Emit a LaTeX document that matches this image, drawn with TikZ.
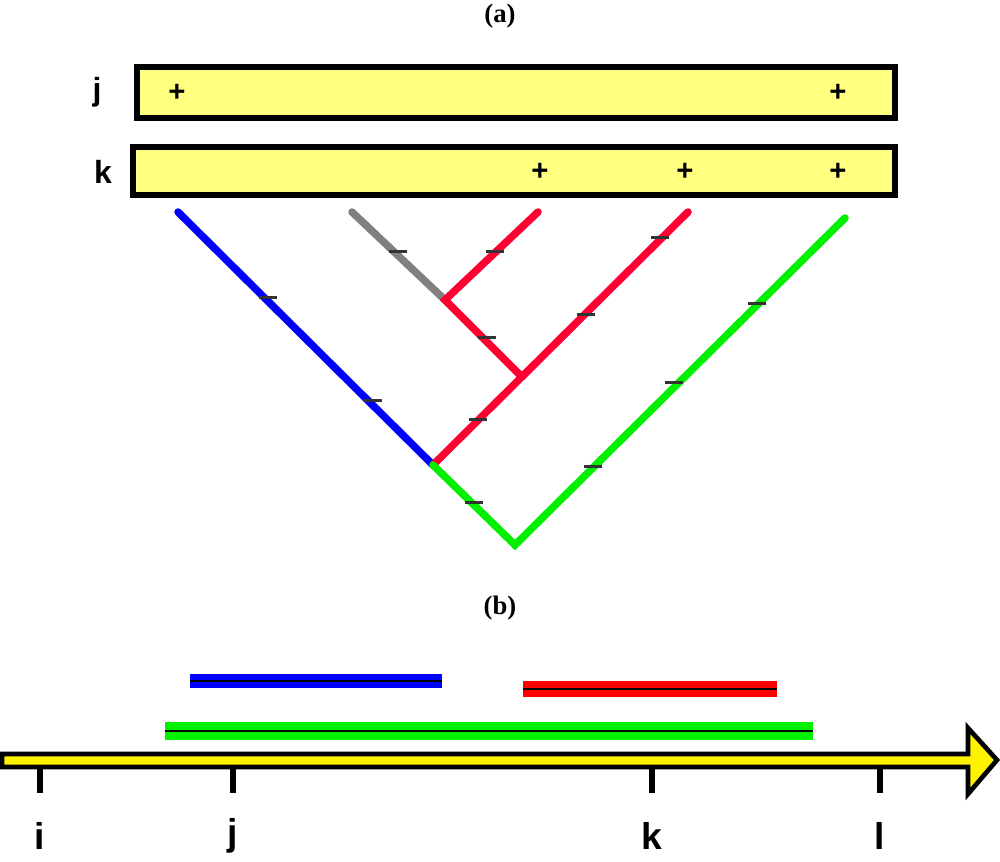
\documentclass[tikz,border=0pt]{standalone}
\usepackage{fontspec}
\setmainfont{Liberation Serif}
\newfontfamily\labfont{Liberation Sans}
\begin{document}
\begin{tikzpicture}[x=0.75pt, y=-0.75pt,
  branch/.style={line width=7.5pt*0.75, line cap=round},
  bar/.style={line width=0.75pt*2.5},
  seq/.style={draw=black, line width=4.5pt, fill={rgb,255:red,255;green,255;blue,128}},
  lab/.style={font=\labfont\bfseries\fontsize{24}{24}\selectfont},
  mark/.style={}]
\useasboundingbox (0,0) rectangle (1000,862);
\definecolor{treered}{RGB}{255,0,51}
\definecolor{treegreen}{RGB}{0,240,0}

\node[font=\bfseries\fontsize{20}{20}\selectfont] (capa) at (500,16) {(a)};
\node[font=\bfseries\fontsize{20}{20}\selectfont] (capb) at (500,608) {(b)};

% sequences
\draw[seq] (137,67) rectangle (895,118);
\draw[seq] (133,147) rectangle (895,195);
\node[lab] (lj) at (97,92) {j};
\node[lab] (lk) at (103,172) {k};
\foreach \px/\py in {177/93, 838/93, 540/172, 685/172, 838/172}
  \node[lab, font=\labfont\bfseries\fontsize{22}{22}\selectfont] at (\px,\py) {+};

% tree
\coordinate (b1) at (178,212);
\coordinate (g1) at (352,212);
\coordinate (r1) at (538,212);
\coordinate (r2) at (688,212);
\coordinate (g3) at (845,218);
\coordinate (n1) at (445,300);
\coordinate (n2) at (520,375);
\coordinate (n3) at (433,465);
\coordinate (root) at (515,545);
\draw[branch, blue] (b1) -- (n3);
\draw[branch, gray] (g1) -- (n1);
\draw[branch, treered] (r1) -- (n1) -- (n2);
\draw[branch, treered] (r2) -- (n3);
\draw[branch, treegreen] (n3) -- (root) -- (g3);
\foreach \px/\py in {268/298, 373/401, 398/252, 495/252, 487/338, 478/420,
                     586/315, 660/238, 474/503, 593/467, 674/383, 757/304}
  \draw[line width=3pt*0.75, black!80] (\px-9,\py) -- (\px+9,\py);

% intervals
\fill[blue] (190,674) rectangle (442,688);
\draw[bar] (190,681) -- (442,681);
\fill[red] (523,681) rectangle (777,697);
\draw[bar] (523,689) -- (777,689);
\fill[treegreen] (165,722) rectangle (813,740);
\draw[bar] (165,731) -- (813,731);

% axis
\draw[line width=3.5pt, fill=yellow, line join=miter]
  (2,754) -- (968,754) -- (968,728) -- (997,760) -- (968,794) -- (968,767) -- (2,767) -- cycle;
\foreach \tx/\tl in {40/i, 233/j, 652/k, 880/l} {
  \draw[line width=3.8pt] (\tx,768) -- (\tx,793);
  \node[lab, font=\labfont\bfseries\fontsize{28}{28}\selectfont] at (\tx,836) {\tl};
}
\end{tikzpicture}
\end{document}
